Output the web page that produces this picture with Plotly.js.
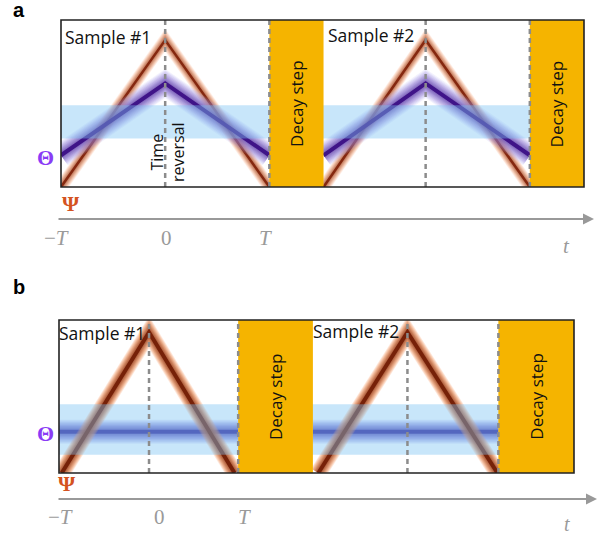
<!DOCTYPE html>
<html>
<head>
<meta charset="utf-8">
<script src="https://cdn.plot.ly/plotly-3.0.1.min.js"></script>
<style>html,body{margin:0;padding:0;background:#fff;}#chart{width:605px;height:539px;}</style>
</head>
<body>
<div id="chart"></div>
<script>
// ---- data (time in units of T, height in fraction of box) ----
const aSample1X = [-1, 0, 1];
const aSample2X = [1.52, 2.5, 3.5];
const aPsiY = [0, 0.88, 0];
const aThetaY = [0.19, 0.62, 0.19];
const aReversalX = [0, 1, 2.5, 3.5];
const aDecayStart = [1, 3.5];
const aDecayEnd = [1.52, 4.02];
const aBand = [0.29, 0.49];
const aRange = [-1, 4.02];

const bSample1X = [-0.97, 0, 0.95];
const bSample2X = [1.88, 2.87, 3.87];
const bPsiY = [0, 0.92, 0];
const bThetaX1 = [-1, 0.99];
const bThetaX2 = [1.82, 3.88];
const bThetaY = [0.27, 0.27];
const bReversalX = [0, 0.99, 2.87, 3.88];
const bDecayStart = [0.99, 3.88];
const bDecayEnd = [1.82, 4.72];
const bBand = [0.12, 0.45];
const bRange = [-1, 4.72];

const sampleLabels = ['Sample #1', 'Sample #2'];
const tickLabels = ['\u2212<i>T</i>', '0', '<i>T</i>'];
const decayLabel = 'Decay step';
const reversalLabel = 'Time<br>reversal';

// ---- helpers ----
const W = 605, H = 539;
const px = p => p / W;
const py = p => 1 - p / H;

const traces = [];
// soft (blurred) line style: many stacked strokes from wide/pale to thin/dark
function softStyle(edge, core, wMax, wMin, n, alpha, coreAlpha) {
  const out = [];
  for (let k = 0; k < n; k++) {
    const f = k / (n - 1);
    const w = wMax + (wMin - wMax) * f;
    const c = edge.map((e, j) => Math.round(e + (core[j] - e) * f));
    const a = k === n - 1 ? coreAlpha : alpha;
    out.push({w: w, c: 'rgba(' + c.join(',') + ',' + a + ')'});
  }
  return out;
}
function blurLine(x, y, xa, ya, layers) {
  layers.forEach(l => traces.push({
    x: x, y: y, xaxis: xa, yaxis: ya, type: 'scatter', mode: 'lines',
    line: {color: l.c, width: l.w}, hoverinfo: 'skip', showlegend: false
  }));
}
const aPsiStyle = softStyle([250,160,110], [125,30,5], 13, 2.5, 9, 0.16, 0.9);
const aThetaStyle = softStyle([175,165,245], [55,10,130], 24, 4, 10, 0.16, 0.9);
const bPsiStyle = softStyle([250,150,90], [115,30,5], 17, 4, 10, 0.2, 0.95);
const bThetaStyle = softStyle([150,150,235], [50,30,150], 24, 4, 10, 0.18, 0.9);

// panel a
blurLine(aSample1X, aPsiY, 'x', 'y', aPsiStyle);
blurLine(aSample2X, aPsiY, 'x', 'y', aPsiStyle);
blurLine(aSample1X, aThetaY, 'x', 'y', aThetaStyle);
blurLine(aSample2X, aThetaY, 'x', 'y', aThetaStyle);
// panel b
blurLine(bThetaX1, bThetaY, 'x2', 'y2', bThetaStyle);
blurLine(bThetaX2, bThetaY, 'x2', 'y2', bThetaStyle);
blurLine(bSample1X, bPsiY, 'x2', 'y2', bPsiStyle);
blurLine(bSample2X, bPsiY, 'x2', 'y2', bPsiStyle);

const YELLOW = '#F5B400';
const shapes = [];
const annotations = [];

function panel(xa, ya, band, decayS, decayE, revX) {
  shapes.push({type:'rect', xref: xa + ' domain', yref: ya, x0: 0, x1: 1, y0: band[0], y1: band[1],
    fillcolor: 'rgba(125,195,242,0.42)', line: {width: 0}, layer: 'above'});
  decayS.forEach((s, i) => shapes.push({type:'rect', xref: xa, yref: ya + ' domain', x0: s, x1: decayE[i], y0: 0, y1: 1,
    fillcolor: YELLOW, line: {width: 0}, layer: 'above'}));
  revX.forEach(x => shapes.push({type:'line', xref: xa, yref: ya + ' domain', x0: x, x1: x, y0: 0, y1: 1,
    line: {color: '#8c8c8c', width: 2.5, dash: '5px,4px'}, layer: 'above'}));
  shapes.push({type:'rect', xref: xa + ' domain', yref: ya + ' domain', x0: 0, x1: 1, y0: 0, y1: 1,
    fillcolor: 'rgba(0,0,0,0)', line: {color: '#222', width: 1.6}, layer: 'above'});
  decayS.forEach((s, i) => annotations.push({xref: xa, yref: ya, x: (s + decayE[i]) / 2, y: 0.5,
    text: decayLabel, textangle: -90, showarrow: false, font: {family: 'Open Sans', size: 17, color: '#111'}}));
}
panel('x', 'y', aBand, aDecayStart, aDecayEnd, aReversalX);
panel('x2', 'y2', bBand, bDecayStart, bDecayEnd, bReversalX);

const txt = (x, y, text, font, extra) => annotations.push(Object.assign({xref: 'paper', yref: 'paper',
  x: px(x), y: py(y), text: text, showarrow: false, font: font, xanchor: 'center', yanchor: 'middle'}, extra || {}));

const sans = {family: 'Open Sans', size: 17.5, color: '#111'};
// sample labels
txt(63, 37, sampleLabels[0], sans, {xanchor: 'left'});
txt(326, 35, sampleLabels[1], sans, {xanchor: 'left'});
txt(57, 333, sampleLabels[0], sans, {xanchor: 'left'});
txt(311, 331, sampleLabels[1], sans, {xanchor: 'left'});
// time reversal
txt(167, 152, reversalLabel, {family: 'Open Sans', size: 16, color: '#111'}, {textangle: -90});
// panel letters
txt(19, 10, '<b>a</b>', {family: 'Liberation Sans', size: 20, color: '#000'});
txt(19, 287, '<b>b</b>', {family: 'Liberation Sans', size: 20, color: '#000'});
// Theta / Psi labels
const serif = 'Liberation Serif';
txt(46, 157, '<b>\u0398</b>', {family: serif, size: 22, color: '#8a3cf5'});
txt(71, 203, '<b>\u03A8</b>', {family: serif, size: 22, color: '#d4531f'});
txt(46, 433, '<b>\u0398</b>', {family: serif, size: 22, color: '#8a3cf5'});
txt(67, 483, '<b>\u03A8</b>', {family: serif, size: 22, color: '#d4531f'});
// time axes
const tfont = {family: serif, size: 21, color: '#9a9a9a'};
[56, 166, 265].forEach((x, i) => txt(x, 238, tickLabels[i], tfont));
[60, 159, 244].forEach((x, i) => txt(x, 517, tickLabels[i], tfont));
txt(566, 246, '<i>t</i>', tfont);
txt(567, 524, '<i>t</i>', {family: serif, size: 20, color: '#9a9a9a'});
// arrows
annotations.push({xref:'paper', yref:'paper', x: px(594), y: py(219), ax: -(594-57), ay: 0, text: '',
  showarrow: true, arrowhead: 2, arrowsize: 1.1, arrowwidth: 2, arrowcolor: '#999'});
annotations.push({xref:'paper', yref:'paper', x: px(597), y: py(499), ax: -(597-57), ay: 0, text: '',
  showarrow: true, arrowhead: 2, arrowsize: 1.1, arrowwidth: 2, arrowcolor: '#999'});

const hid = {showgrid: false, zeroline: false, showticklabels: false, ticks: '', showline: false, fixedrange: true};
const layout = {
  width: W, height: H, margin: {l: 0, r: 0, t: 0, b: 0},
  paper_bgcolor: '#fff', plot_bgcolor: '#fff', showlegend: false,
  xaxis: Object.assign({}, hid, {domain: [px(61), px(584)], range: aRange}),
  yaxis: Object.assign({}, hid, {domain: [py(187), py(20)], range: [0, 1]}),
  xaxis2: Object.assign({}, hid, {domain: [px(59), px(574)], range: bRange, anchor: 'y2'}),
  yaxis2: Object.assign({}, hid, {domain: [py(473), py(320)], range: [0, 1], anchor: 'x2'}),
  shapes: shapes, annotations: annotations
};
Plotly.newPlot('chart', traces, layout, {staticPlot: true});
</script>
</body>
</html>
